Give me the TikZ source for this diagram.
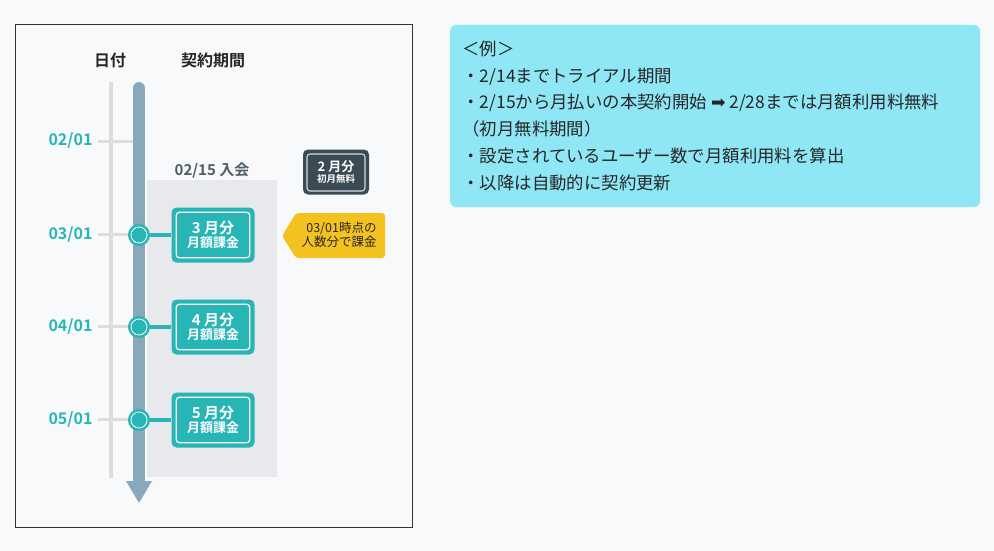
\documentclass[tikz,border=0pt]{standalone}
\usepackage{fontspec}
\usetikzlibrary{calc}
\setmainfont{Noto Sans CJK JP}
\newfontfamily\cjkb{Noto Sans CJK JP Bold}
\definecolor{bg}{HTML}{F8F9FB}
\definecolor{teal}{HTML}{27B5B6}
\definecolor{axis}{HTML}{8AA8BB}
\definecolor{tick}{HTML}{DDDDDD}
\definecolor{reg}{HTML}{E8E9EC}
\definecolor{dark}{HTML}{3A4B56}
\definecolor{yel}{HTML}{F4C21E}
\definecolor{info}{HTML}{8FE7F6}
\begin{document}
\begin{tikzpicture}[x=1pt,y=-1pt,
  date/.style={anchor=east,text=teal,font=\cjkb\fontsize{16}{18}\selectfont},
  head/.style={font=\cjkb\fontsize{16}{18}\selectfont,text=black!85},
  mbox/.style={fill=teal,rounded corners=5pt,minimum width=83pt,minimum height=55pt,inner sep=0pt},
  inner/.style={draw=white,line width=1.2pt,rounded corners=3pt},
  dot/.style={circle,fill=teal,draw=teal,line width=1pt,minimum size=21pt,inner sep=0pt},
  itext/.style={anchor=west,font=\fontsize{17.4}{19}\selectfont,text=black!85}]
\useasboundingbox (0,0) rectangle (994,551);
\fill[bg] (0,0) rectangle (994,551);
\draw[black!80,line width=1pt] (15,25) rectangle (412,527);
\node[head] (h1) at (110,60) {日付};
\node[head] (h2) at (213,60) {契約期間};
\fill[reg] (147,180) rectangle (277,477);
\draw[tick,line width=3.5pt] (111,82) -- (111,478);
\foreach \y/\t/\n in {141/02\slash 01/a,234/03\slash 01/b,326/04\slash 01/c,419/05\slash 01/d}{
  \draw[tick,line width=3pt] (98,\y) -- (134,\y);
  \node[date] (d\n) at (96,\y) {\t};
}
\draw[axis,line width=12pt,line cap=round] (139,88) -- (139,482);
\fill[axis] (126,481) -- (152,481) -- (139,503) -- cycle;
\node[text=dark!90,font=\cjkb\fontsize{15}{16}\selectfont] (join) at (212,170) {02/15 入会};
\foreach \y/\m in {235/3,327/4,420/5}{
  \node[mbox] (b\m) at (213,\y) {};
  \draw[inner] ($(b\m.north west)+(5,5)$) rectangle ($(b\m.south east)+(-5,-5)$);
  \node[text=white,align=center,font=\cjkb\fontsize{15}{16}\selectfont] at (b\m) {\m\ 月分\\[-2pt]{\fontsize{13}{14}\selectfont 月額課金}};
  \node[dot] (c\m) at (139,\y) {};
  \draw[white,line width=0.8pt] (c\m) circle (8pt);
  \draw[teal,line width=4pt] (c\m.east) -- (b\m.west);
}
\node[fill=dark,rounded corners=5pt,minimum width=66pt,minimum height=45pt] (feb) at (336,172) {};
\draw[white!80!dark,line width=1.1pt,rounded corners=3pt] (307,154) rectangle (365,191);
\node[text=white,align=center,font=\cjkb\fontsize{13}{13}\selectfont] at (feb) {2 月分\\[-2pt]{\fontsize{9.5}{11}\selectfont 初月無料}};
\fill[yel,rounded corners=3pt] (385,213) -- (296,213) -- (282,236) -- (296,258) -- (385,258) -- cycle;
\node[align=right,text=black!85,font=\fontsize{12.5}{14}\selectfont] (tag) at (339,235) {03/01時点の\\人数分で課金};
\fill[info,rounded corners=6pt] (450,25) rectangle (980,207);
\node[itext] (l1) at (459,49) {＜例＞};
\node[itext] (l2) at (459,77) {・2/14までトライアル期間};
\node[itext] (l3) at (459,103) {・2/15から月払いの本契約開始 {\fontspec{DejaVu Sans}➡} 2/28までは月額利用料無料};
\node[itext] (l4) at (459,129) {（初月無料期間）};
\node[itext] (l5) at (459,156) {・設定されているユーザー数で月額利用料を算出};
\node[itext] (l6) at (459,183) {・以降は自動的に契約更新};
\end{tikzpicture}
\end{document}
